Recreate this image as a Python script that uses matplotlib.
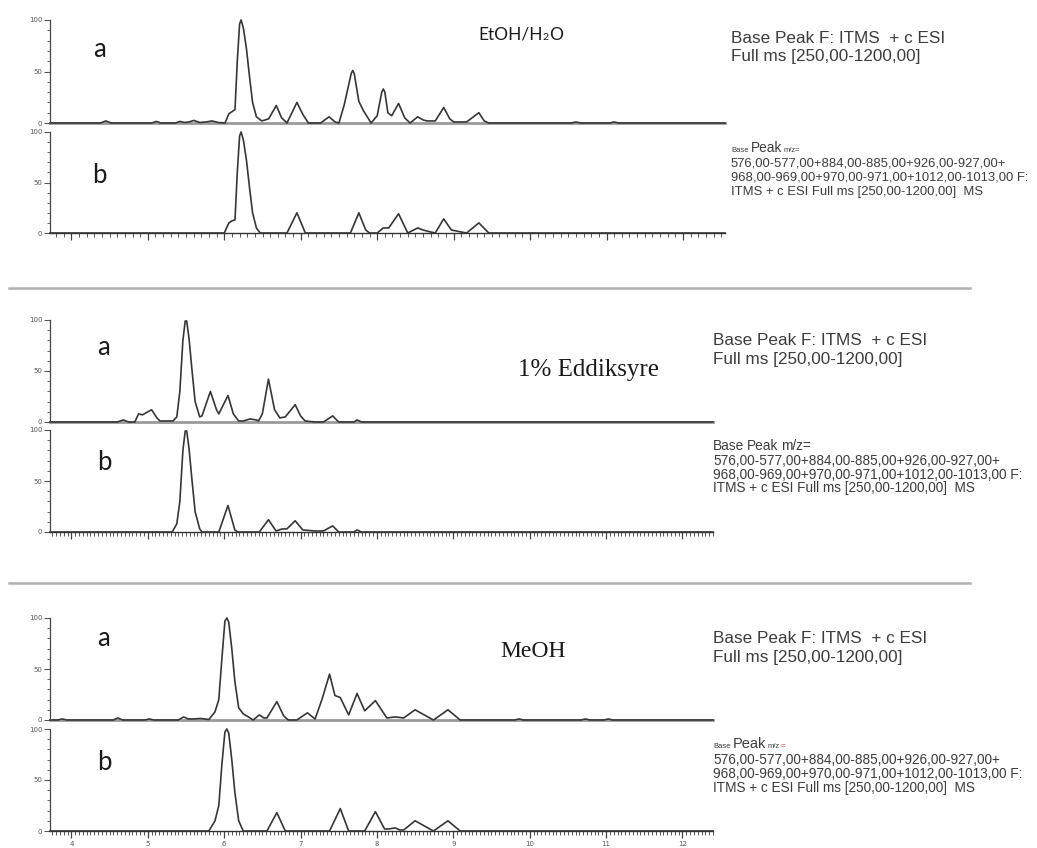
import matplotlib
matplotlib.use("Agg")
import matplotlib.pyplot as plt
from matplotlib.lines import Line2D
from matplotlib.ticker import MultipleLocator

# ---------------- data (retention time [min], relative abundance [%]) ----------------
etoh_a_t = [3.72, 4.38, 4.45, 4.52, 5.05, 5.11, 5.17, 5.36, 5.42, 5.48, 5.54, 5.60, 5.68, 5.76,
            5.84, 5.92, 6.01, 6.06, 6.10, 6.14, 6.17, 6.20, 6.22, 6.25, 6.29, 6.33, 6.37, 6.42,
            6.49, 6.58, 6.68, 6.75, 6.82, 6.95, 7.03, 7.10, 7.26, 7.37, 7.45, 7.50, 7.57, 7.66,
            7.68, 7.70, 7.76, 7.82, 7.92, 8.00, 8.06, 8.08, 8.10, 8.14, 8.19, 8.28, 8.36, 8.43,
            8.53, 8.60, 8.65, 8.76, 8.87, 8.95, 9.00, 9.17, 9.33, 9.40, 9.46, 10.54, 10.60, 10.66,
            11.04, 11.10, 11.16, 12.55]
etoh_a_i = [0, 0, 2, 0, 0, 1.5, 0, 0, 1.5, 0.5, 1, 2.5, 0.5, 1,
            2, 0.5, 0, 9, 11, 13, 60, 96, 100, 92, 72, 45, 20, 6,
            2, 4, 17, 5, 0, 20, 8, 0, 0, 6, 1, 0, 18, 48,
            51, 48, 21, 12, 0, 7, 30, 33, 30, 10, 7, 19, 5, 0,
            6, 3, 2, 2, 15, 4, 1, 1, 10, 2, 0, 0, 1, 0,
            0, 1, 0, 0]

etoh_b_t = [3.72, 6.00, 6.06, 6.10, 6.14, 6.17, 6.20, 6.22, 6.25, 6.29, 6.33, 6.37, 6.42, 6.47,
            6.82, 6.95, 7.06, 7.65, 7.76, 7.85, 7.90, 8.00, 8.08, 8.15, 8.28, 8.40, 8.53, 8.60,
            8.70, 8.76, 8.87, 8.97, 9.10, 9.17, 9.33, 9.46, 12.55]
etoh_b_i = [0, 0, 10, 12, 13, 60, 96, 100, 92, 72, 45, 20, 5, 0,
            0, 20, 0, 0, 20, 3, 0, 0, 5, 5, 19, 0, 5, 3,
            1, 0, 14, 3, 1, 0, 10, 0, 0]

acid_a_t = [3.72, 4.60, 4.68, 4.75, 4.83, 4.88, 4.93, 5.05, 5.12, 5.16, 5.33, 5.38, 5.42, 5.46,
            5.49, 5.51, 5.54, 5.58, 5.62, 5.68, 5.71, 5.82, 5.90, 5.93, 6.05, 6.12, 6.19, 6.25,
            6.34, 6.42, 6.45, 6.50, 6.58, 6.66, 6.73, 6.80, 6.93, 7.00, 7.06, 7.19, 7.30, 7.42,
            7.50, 7.70, 7.74, 7.80, 12.40]
acid_a_i = [0, 0, 2, 0, 0, 8, 7, 12, 4, 1, 1, 5, 30, 80,
            99, 99, 82, 50, 20, 5, 6, 30, 12, 8, 26, 8, 1, 1,
            3, 2, 1, 8, 42, 12, 4, 5, 17, 6, 1, 0, 0, 6,
            0, 0, 2, 0, 0]

acid_b_t = [3.72, 5.32, 5.38, 5.42, 5.46, 5.49, 5.51, 5.54, 5.58, 5.62, 5.68, 5.71, 5.93, 6.05,
            6.14, 6.18, 6.46, 6.58, 6.68, 6.76, 6.82, 6.93, 7.03, 7.19, 7.30, 7.42, 7.50, 7.70,
            7.74, 7.80, 12.40]
acid_b_i = [0, 0, 8, 30, 80, 99, 99, 82, 50, 20, 3, 0, 0, 26,
            2, 0, 0, 12, 1, 3, 3, 11, 2, 1, 1, 6, 0, 0,
            2, 0, 0]

meoh_a_t = [3.72, 3.82, 3.88, 3.94, 4.55, 4.61, 4.67, 4.96, 5.02, 5.08, 5.40, 5.47, 5.53, 5.58,
            5.69, 5.80, 5.88, 5.93, 5.97, 6.01, 6.035, 6.06, 6.10, 6.14, 6.19, 6.25, 6.34, 6.38,
            6.46, 6.52, 6.56, 6.69, 6.78, 6.84, 6.95, 7.09, 7.19, 7.28, 7.38, 7.45, 7.52, 7.63,
            7.74, 7.84, 7.98, 8.13, 8.24, 8.35, 8.50, 8.74, 8.93, 9.09, 9.80, 9.86, 9.92, 10.67,
            10.73, 10.79, 10.97, 11.03, 11.09, 12.40]
meoh_a_i = [0, 0, 1, 0, 0, 2, 0, 0, 1, 0, 0, 3, 1, 1,
            1.5, 0.5, 8, 20, 60, 97, 100, 96, 70, 38, 12, 6, 2, 0,
            5, 2, 2, 18, 4, 0, 0, 7, 1, 20, 45, 24, 22, 5,
            26, 9, 19, 2, 3, 2, 10, 0, 10, 0, 0, 1, 0, 0,
            1, 0, 0, 1, 0, 0]

meoh_b_t = [3.72, 5.80, 5.88, 5.93, 5.97, 6.01, 6.035, 6.06, 6.10, 6.14, 6.19, 6.25, 6.56, 6.69,
            6.80, 7.38, 7.52, 7.63, 7.84, 7.98, 8.10, 8.15, 8.24, 8.30, 8.35, 8.50, 8.74, 8.93,
            9.09, 12.40]
meoh_b_i = [0, 0, 10, 25, 65, 97, 100, 96, 70, 38, 10, 0, 0, 18,
            0, 0, 22, 0, 0, 19, 2, 2, 3, 1, 1, 10, 0, 10,
            0, 0]

y_ticks = [0, 50, 100]
y_tick_labels = [str(v) for v in y_ticks]
x_ticks = [4, 5, 6, 7, 8, 9, 10, 11, 12]
x_tick_labels = [str(v) for v in x_ticks]

solvent_titles = ["EtOH/H", "1% Eddiksyre", "MeOH"]
header_full = ["Base Peak F: ITMS  + c ESI", "Full ms [250,00-1200,00]"]
header_sim = ["576,00-577,00+884,00-885,00+926,00-927,00+",
              "968,00-969,00+970,00-971,00+1012,00-1013,00 F:",
              "ITMS + c ESI Full ms [250,00-1200,00]  MS"]

# ---------------- figure ----------------
W, H = 1037, 848
fig = plt.figure(figsize=(W / 100, H / 100), dpi=100)
fig.patch.set_facecolor("white")
renderer = fig.canvas.get_renderer()

XMIN = 3.72
TRACE_C = "#363636"
TXT_C = "#3c3c3c"


def rect(x0, x1, ytop, ybot):
    return [x0 / W, 1 - ybot / H, (x1 - x0) / W, (ybot - ytop) / H]


def fx(x):
    return x / W


def fy(y):
    return 1 - y / H


def make_ax(x1, ytop, ybot, xmax, bottom, labels, minor_x):
    ax = fig.add_axes(rect(50, x1, ytop, ybot))
    ax.set_xlim(XMIN, xmax)
    ax.set_ylim(0, 100)
    ax.patch.set_alpha(0)
    for s in ("top", "right"):
        ax.spines[s].set_visible(False)
    ax.spines["left"].set_color("#444444")
    ax.spines["left"].set_linewidth(0.9)
    ax.set_yticks(y_ticks)
    ax.set_yticklabels(y_tick_labels)
    ax.yaxis.set_minor_locator(MultipleLocator(10))
    ax.tick_params(axis="y", which="major", length=4, width=0.8, color="#555555",
                   labelsize=5, labelcolor="#555555", pad=1.5)
    ax.tick_params(axis="y", which="minor", length=2.5, width=0.7, color="#666666")
    if bottom:
        ax.spines["bottom"].set_color("#333333")
        ax.spines["bottom"].set_linewidth(1.0)
        ax.set_xticks(x_ticks)
        if labels:
            ax.set_xticklabels(x_tick_labels)
        else:
            ax.set_xticklabels([])
        ax.xaxis.set_minor_locator(MultipleLocator(minor_x))
        ax.tick_params(axis="x", which="major", length=5, width=0.9, color="#444444",
                       labelsize=5, labelcolor="#555555", pad=2)
        ax.tick_params(axis="x", which="minor", length=3, width=0.7, color="#555555")
    else:
        ax.spines["bottom"].set_color("#9a9a9a")
        ax.spines["bottom"].set_linewidth(2.0)
        ax.set_xticks([])
    return ax


def pieces(x, y, parts, family="Liberation Sans", color=TXT_C):
    """Write consecutive text pieces on one baseline, starting at pixel x."""
    cur = x
    for txt, size, col, gap in parts:
        t = fig.text(fx(cur), fy(y), txt, fontsize=size, family=family,
                     color=col if col else color, ha="left", va="baseline")
        bb = t.get_window_extent(renderer=renderer)
        cur = bb.x1 + gap
    return cur


panels = [
    (725, 20, 123, 132, 233, 12.55, (etoh_a_t, etoh_a_i), (etoh_b_t, etoh_b_i), 0.1, False),
    (713, 320, 422, 430, 532, 12.40, (acid_a_t, acid_a_i), (acid_b_t, acid_b_i), 0.05, False),
    (713, 618, 720, 729, 831, 12.40, (meoh_a_t, meoh_a_i), (meoh_b_t, meoh_b_i), 0.05, True),
]

for (x1, at, ab, bt, bb, xmax, tra, trb, mx, lab) in panels:
    axa = make_ax(x1, at, ab, xmax, False, False, mx)
    axa.plot(tra[0], tra[1], color=TRACE_C, lw=1.2, clip_on=False, zorder=3,
             solid_joinstyle="round")
    axb = make_ax(x1, bt, bb, xmax, True, lab, mx)
    axb.plot(trb[0], trb[1], color=TRACE_C, lw=1.2, clip_on=False, zorder=3,
             solid_joinstyle="round")

# letters a / b
letter_pos = [(99, 57, 99, 183), (104, 355, 104, 470), (104, 646, 104, 770)]
for xa, ya, xb, yb in letter_pos:
    fig.text(fx(xa), fy(ya), "a", fontsize=18.5, family="Lato", color="#1a1a1a",
             ha="center", va="baseline")
    fig.text(fx(xb), fy(yb), "b", fontsize=18.5, family="Lato", color="#1a1a1a",
             ha="center", va="baseline")

# solvent titles
pieces(478, 40, [(solvent_titles[0], 12.5, "#1a1a1a", 0.3), ("2", 7.5, "#1a1a1a", 0.3),
                 ("O", 12.5, "#1a1a1a", 0)], family="Lato")
fig.text(fx(518), fy(376), solvent_titles[1], fontsize=18, family="Liberation Serif",
         color="#1a1a1a", ha="left", va="baseline")
fig.text(fx(500), fy(657), solvent_titles[2], fontsize=17, family="Liberation Serif",
         color="#1a1a1a", ha="left", va="baseline")

# right-hand headers
full_pos = [(731, 43, 61), (713, 345, 364), (713, 643, 662)]
for x, y1, y2 in full_pos:
    fig.text(fx(x), fy(y1), header_full[0], fontsize=12.3, family="Liberation Sans",
             color=TXT_C, ha="left", va="baseline")
    fig.text(fx(x), fy(y2), header_full[1], fontsize=12.3, family="Liberation Sans",
             color=TXT_C, ha="left", va="baseline")

sim_pos = [(731, [152, 166.5, 180.5, 194.5], 9.4), (713, [450, 465, 478.5, 492], 9.8),
           (713, [748, 764, 778, 792], 9.8)]
pieces(731, 152, [("Base", 5.5, None, 2.5), ("Peak", 9.8, None, 1.5), ("m/z=", 5.5, None, 0)])
pieces(713, 450, [("Base", 9.8, None, 2.7), ("Peak", 9.8, None, 2.7), ("m/z=", 9.8, None, 0)])
pieces(713, 748, [("Base", 5.5, None, 2.5), ("Peak", 10.5, None, 1.5), ("m/z", 5.5, None, 0.3),
                  ("=", 5.5, "#d03030", 0)])
for x, ys, fs in sim_pos:
    for line, y in zip(header_sim, ys[1:]):
        fig.text(fx(x), fy(y), line, fontsize=fs, family="Liberation Sans",
                 color=TXT_C, ha="left", va="baseline")

# separators between the three solvent blocks
for ysep in (288, 583):
    fig.add_artist(Line2D([fx(9), fx(970)], [fy(ysep), fy(ysep)], color="#b0b0b0", lw=1.8))

fig.savefig("out.png", dpi=100, facecolor="white")
